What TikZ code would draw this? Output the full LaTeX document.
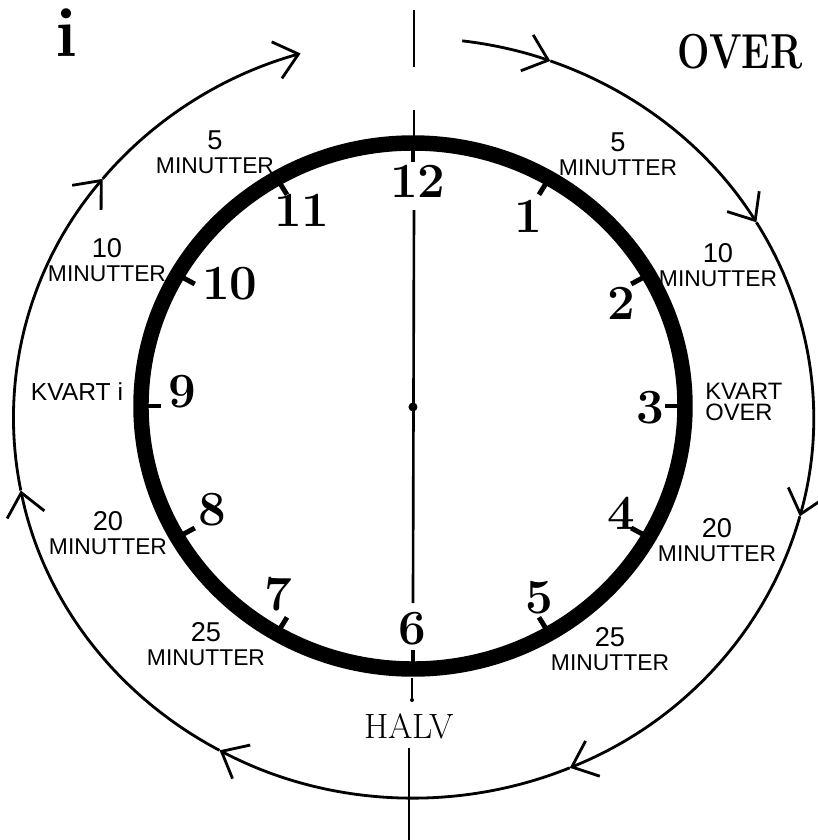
\documentclass[tikz,border=0pt]{standalone}
\usepackage{fontspec}
\setsansfont{Liberation Sans}
\usepackage{graphicx}
\usetikzlibrary{arrows.meta}
\newcommand{\minnum}{\fontsize{15.5}{15.5}\selectfont}
\tikzset{
  dial/.style={draw=black, line width=8.8pt},
  hourtick/.style={draw=black, line width=2.8pt},
  hournum/.style={font=\fontsize{28}{28}\selectfont\bfseries, inner sep=0pt},
  minlbl/.style={font=\sffamily\fontsize{13}{13.5}\selectfont, align=center, inner sep=0pt},
  axis/.style={draw=black, line width=1.5pt},
  rim/.style={draw=black, line width=1.6pt,
    -{Straight Barb[length=0.45cm, width=0.76cm, line width=1.6pt]}}
}
\begin{document}
\begin{tikzpicture}[x=0.02cm, y=0.02cm]
  \useasboundingbox (-413,-434) rectangle (405,406);
  \coordinate (O) at (0,0);
  \coordinate (rimc) at (0.5,-12);

  % outer ring, clockwise with arrows
  \foreach \a/\b in {83/70, 70/31, 31/-15, -15/-67, -67/-119, -119/-169, -169/-219, -219/-253.6}
    \draw[rim] ([shift={(\a:400 and 380)}]rimc) arc[start angle=\a, end angle=\b, x radius=400, y radius=380];

  % dial
  \draw[dial] (O) ellipse[x radius=272, y radius=263];
  \foreach \a in {0,30,...,330}
    \draw[hourtick] (\a:268 and 259) -- (\a:252 and 244);

  % hour numbers
  \foreach \h/\px/\py in {12/5/225, 1/115/190, 2/208/103, 3/237/-2, 4/208/-107, 5/126/-192,
      6/-1/-223, 7/-135/-188, 8/-201/-104, 9/-231/14, 10/-183/122, 11/-111/196}
    \node[hournum] (h\h) at (\px,\py) {\h};

  % vertical axis
  \coordinate (ax1) at (1,396);
  \coordinate (ax2) at (1,339);
  \coordinate (ax3) at (1,296);
  \coordinate (ax4) at (1,263);
  \coordinate (ax5) at (1,196);
  \coordinate (ax6) at (0,-197);
  \coordinate (ax7) at (-1,-272);
  \coordinate (ax8) at (-1,-294);
  \coordinate (ax9) at (-4,-342);
  \coordinate (ax10) at (-4,-434);
  \draw[axis] (ax1) -- (ax2);
  \draw[axis] (ax3) -- (ax4);
  \draw[axis] (ax5) -- (ax6);
  \fill (0,-1) circle[radius=4.5];
  \draw[axis] (ax7) -- (ax8);
  \fill (ax8) circle[radius=2];
  \draw[axis] (ax9) -- (ax10);

  % big words
  \node[font=\fontsize{40}{40}\selectfont\bfseries] (iword) at (-346,373) {i};
  \node[font=\fontsize{28}{28}\selectfont\bfseries] (overword) at (327,354) {\scalebox{0.78}[1]{OVER}};
  \node[font=\fontsize{20}{20}\selectfont, inner sep=0pt] (halv) at (-4,-320) {HALV};

  % minute labels
  \node[minlbl] (m5i) at (-198,254) {{\minnum 5}\\MINUTTER};
  \node[minlbl] (m5o) at (205,252) {{\minnum 5}\\MINUTTER};
  \node[minlbl] (m10i) at (-306,146) {{\minnum 10}\\MINUTTER};
  \node[minlbl] (m10o) at (305,141) {{\minnum 10}\\MINUTTER};
  \node[minlbl, font=\sffamily\fontsize{14}{14}\selectfont] (kvi) at (-336,14) {KVART i};
  \node[minlbl, anchor=west, align=left, font=\sffamily\fontsize{13.5}{12}\selectfont] (kvo) at (292,4) {KVART\\OVER};
  \node[minlbl] (m20i) at (-305,-127) {{\minnum 20}\\MINUTTER};
  \node[minlbl] (m20o) at (304,-134) {{\minnum 20}\\MINUTTER};
  \node[minlbl] (m25i) at (-207,-238) {{\minnum 25}\\MINUTTER};
  \node[minlbl] (m25o) at (197,-243) {{\minnum 25}\\MINUTTER};
\end{tikzpicture}
\end{document}
